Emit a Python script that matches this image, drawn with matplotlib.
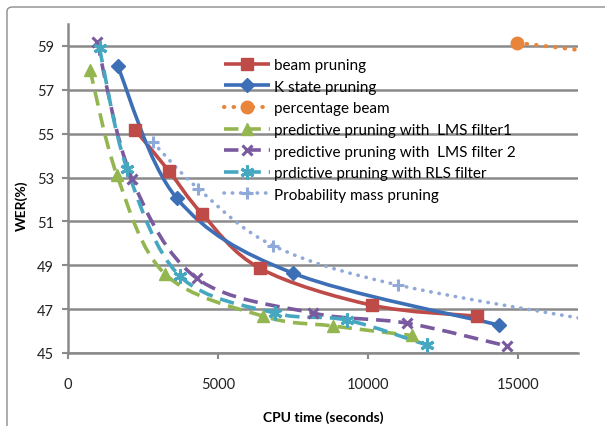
import matplotlib.pyplot as plt
import numpy as np
from matplotlib.path import Path
from matplotlib.patches import PathPatch, FancyBboxPatch
from matplotlib.lines import Line2D

plt.rcParams['font.family'] = ['Lato', 'DejaVu Sans']

# CPU time (s) / WER (%) per pruning method
beam_x = [2230, 3350, 4460, 6400, 10130, 13630]
beam_y = [55.18, 53.32, 51.36, 48.86, 47.18, 46.68]

kstate_x = [1650, 3630, 7500, 14370]
kstate_y = [58.1, 52.05, 48.64, 46.27]

pct_x = [14970, 20000]
pct_y = [59.14, 58.35]

lms1_x = [733, 1633, 3233, 6500, 8830, 11460]
lms1_y = [57.92, 53.1, 48.6, 46.68, 46.23, 45.8]

lms2_x = [967, 2130, 4300, 8170, 11300, 14630]
lms2_y = [59.2, 52.95, 48.4, 46.82, 46.36, 45.32]

rls_x = [1050, 1967, 3733, 6900, 9300, 11970]
rls_y = [58.9, 53.4, 48.5, 46.82, 46.5, 45.36]

prob_x = [2833, 4333, 6833, 11000, 18500]
prob_y = [54.6, 52.5, 49.9, 48.1, 46.25]

labels = ["beam pruning", "K state pruning", "percentage beam",
          "predictive pruning with  LMS filter1",
          "predictive pruning with  LMS filter 2",
          "prdictive pruning with RLS filter",
          "Probability mass pruning"]

xticks = [0, 5000, 10000, 15000]
yticks = [45, 47, 49, 51, 53, 55, 57, 59]


def smooth_path(xs, ys):
    # bezier segments like a spreadsheet "smoothed line"
    p = np.column_stack([xs, ys]).astype(float)
    n = len(p)
    verts = [p[0]]
    codes = [Path.MOVETO]
    for i in range(n - 1):
        p0 = p[i - 1] if i > 0 else p[i]
        p3 = p[i + 2] if i + 2 < n else p[i + 1]
        c1 = p[i] + (p[i + 1] - p0) / 6
        c2 = p[i + 1] - (p3 - p[i]) / 6
        verts += [c1, c2, p[i + 1]]
        codes += [Path.CURVE4] * 3
    return Path(verts, codes)


fig = plt.figure(figsize=(6.05, 4.27), dpi=100)
ax = fig.add_axes([68 / 605, 1 - 354 / 427, 510 / 605, 329 / 427])

# chart frame
fig.patches.append(FancyBboxPatch((7 / 605, -0.05), 1.0, 1 - 8 / 427 + 0.05,
                                  boxstyle="round,pad=0,rounding_size=0.01",
                                  transform=fig.transFigure, fill=False,
                                  ec='#8c8c8c', lw=1.0))

DOT = (0, (0.1, 2.2))
DASH = (0, (4.0, 2.2))
series = [
    (beam_x, beam_y, '#BE4B48', '-', 's', 8, 2.6),
    (kstate_x, kstate_y, '#3D6FB6', '-', 'D', 7.5, 2.6),
    (pct_x, pct_y, '#E8853B', DOT, 'o', 9, 3.0),
    (lms1_x, lms1_y, '#93B650', DASH, '^', 8, 2.6),
    (lms2_x, lms2_y, '#7A5A9E', DASH, 'x', 7.5, 2.6),
    (rls_x, rls_y, '#46A7C1', DASH, (6, 2, 0), 10, 2.6),
    (prob_x, prob_y, '#8FA9D8', DOT, '+', 9, 2.6),
]

handles = []
for (xs, ys, col, ls, mk, ms, lw), lab in zip(series, labels):
    cap = 'round' if ls == DOT else 'butt'
    patch = PathPatch(smooth_path(xs, ys), fill=False, ec=col, lw=lw,
                      ls=ls, capstyle=cap, zorder=3)
    ax.add_patch(patch)
    mew = 2.2 if mk in ('x', '+') or isinstance(mk, tuple) else 1
    ax.plot(xs, ys, ls='none', marker=mk, ms=ms, color=col, mec=col,
            mew=mew, zorder=4)
    h = Line2D([], [], color=col, lw=lw, ls=ls, marker=mk, ms=ms,
               mec=col, mew=mew, dash_capstyle=cap, solid_capstyle='butt')
    handles.append(h)

ax.set_xlim(0, 17000)
ax.set_ylim(45, 60)
ax.set_xticks(xticks)
ax.set_yticks(yticks)
ax.grid(axis='y', color='#8a8a8a', lw=1.8, zorder=1)
ax.set_axisbelow(True)
for s in ['top', 'right']:
    ax.spines[s].set_visible(False)
for s in ['left', 'bottom']:
    ax.spines[s].set_color('#8a8a8a')
    ax.spines[s].set_linewidth(1.8)
ax.tick_params(axis='both', direction='out', length=4, width=1.5,
               color='#8a8a8a', labelsize=10.5, labelcolor='#222222')
ax.tick_params(axis='x', pad=13)
ax.tick_params(axis='y', pad=6)

ax.set_xlabel("CPU time (seconds)", fontsize=10, fontweight='bold')
ax.xaxis.set_label_coords(0.5, -0.175)
ax.set_ylabel("WER(%)", fontsize=10, fontweight='bold')
ax.yaxis.set_label_coords(-0.078, 0.45)

leg = fig.legend(handles, labels, loc='upper left',
                 bbox_to_anchor=(224 / 605, 1 - 59 / 427),
                 frameon=False, fontsize=11, handlelength=3.0,
                 handletextpad=0.3, labelspacing=0.5, borderpad=0,
                 borderaxespad=0)

fig.savefig('out.png', dpi=100)
